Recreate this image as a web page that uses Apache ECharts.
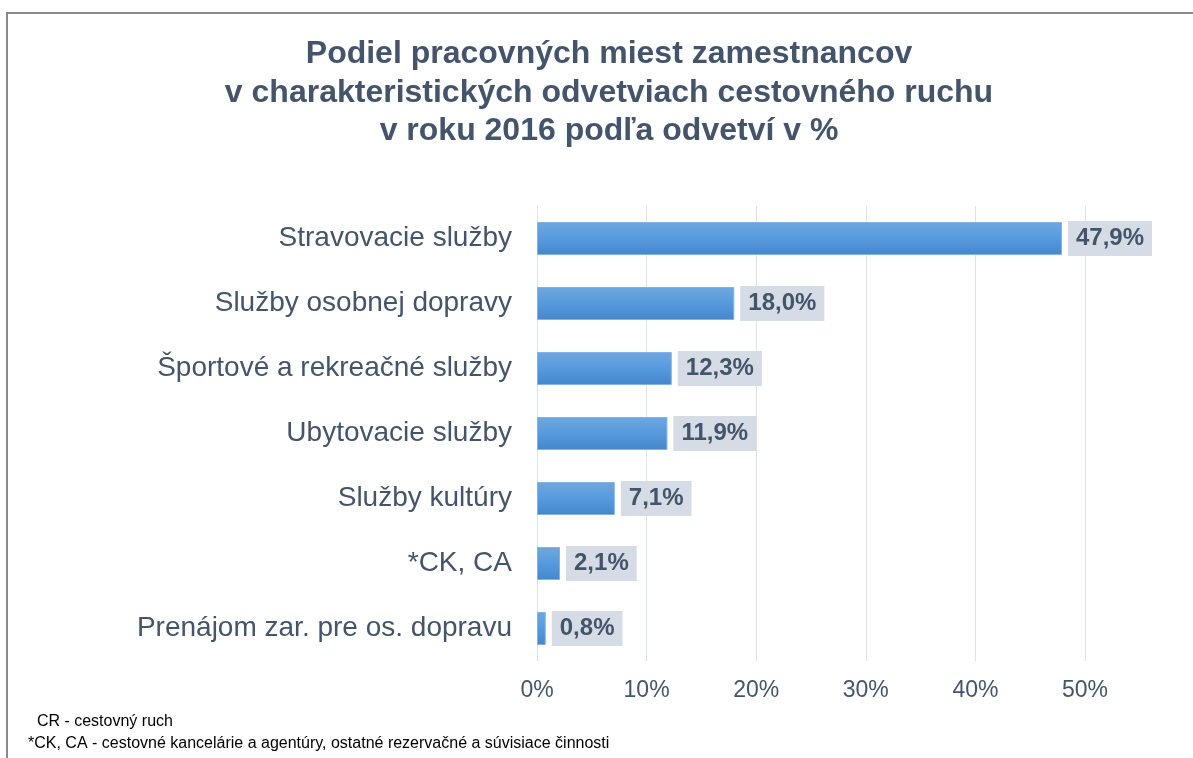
<!DOCTYPE html>
<html><head><meta charset="utf-8">
<script src="https://cdn.jsdelivr.net/npm/echarts@6/dist/echarts.min.js"></script>
<style>html,body{margin:0;padding:0;background:#fff}#c{width:1193px;height:758px}</style>
</head><body><div id="c"></div>
<script>
const titleLines = ['Podiel pracovných miest zamestnancov', 'v charakteristických odvetviach cestovného ruchu', 'v roku 2016 podľa odvetví v %'];
const categories = ['Stravovacie služby', 'Služby osobnej dopravy', 'Športové a rekreačné služby', 'Ubytovacie služby', 'Služby kultúry', '*CK, CA', 'Prenájom zar. pre os. dopravu'];
const values = [47.9, 18.0, 12.3, 11.9, 7.1, 2.1, 0.8];
const xTicks = [0, 10, 20, 30, 40, 50];
const footnotes = ['  CR - cestovný ruch', '*CK, CA - cestovné kancelárie a agentúry, ostatné rezervačné a súvisiace činnosti'];

const textCol = '#44546a';
const chart = echarts.init(document.getElementById('c'));
chart.setOption({
  animation: false,
  title: {
    text: titleLines.join('\n'),
    left: 604, top: 30, textAlign: 'center',
    textStyle: {fontFamily: 'Liberation Sans', fontSize: 32, fontWeight: 'bold', color: textCol, lineHeight: 38.5}
  },
  grid: {left: 537, right: 108, top: 206, bottom: 97, containLabel: false},
  xAxis: {
    type: 'value', min: xTicks[0], max: xTicks[xTicks.length - 1], interval: 10,
    axisLine: {show: false}, axisTick: {show: false},
    splitLine: {lineStyle: {color: '#dde2ea', width: 1}},
    axisLabel: {formatter: v => v + '%', margin: 18, fontFamily: 'Liberation Sans', fontSize: 23, color: textCol}
  },
  yAxis: {
    type: 'category', data: categories, inverse: true,
    axisLine: {show: false}, axisTick: {show: false},
    axisLabel: {margin: 25, fontFamily: 'Liberation Sans', fontSize: 28, color: textCol}
  },
  series: [{
    type: 'bar', data: values, barWidth: 33,
    itemStyle: {
      color: new echarts.graphic.LinearGradient(0, 0, 0, 1, [
        {offset: 0, color: '#6fa7de'}, {offset: 0.5, color: '#569ade'}, {offset: 1, color: '#4686cb'}]),
      borderColor: '#80b4e6', borderWidth: 1
    },
    label: {
      show: true, position: 'right', distance: 6,
      formatter: p => p.value.toFixed(1).replace('.', ',') + '%',
      fontFamily: 'Liberation Sans', fontSize: 24, fontWeight: 'bold', color: textCol,
      backgroundColor: '#d6dce5', padding: [6, 8, 5, 8]
    }
  }],
  graphic: [
    {type: 'line', shape: {x1: 6, y1: 13, x2: 1193, y2: 13}, style: {stroke: '#8a8a8a', lineWidth: 2}},
    {type: 'line', shape: {x1: 7, y1: 12, x2: 7, y2: 758}, style: {stroke: '#8a8a8a', lineWidth: 2}},
    {type: 'text', left: 28, top: 711, style: {text: footnotes.join('\n'), font: '16px "Liberation Sans"', fill: '#000', lineHeight: 22}}
  ]
});
</script></body></html>
